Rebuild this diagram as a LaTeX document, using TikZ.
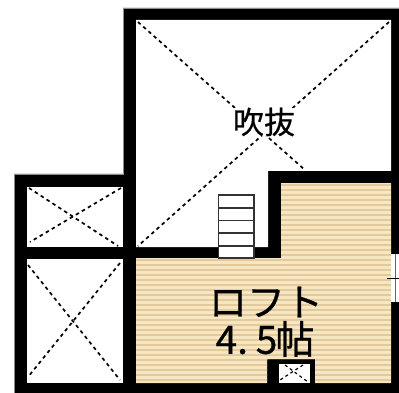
\documentclass[tikz,border=0pt]{standalone}
\usepackage{fontspec}
\newfontfamily\cjk[FakeBold=0.6]{Noto Sans CJK JP}
\usetikzlibrary{positioning}
\definecolor{floorbase}{HTML}{F6E6C2}
\definecolor{floorline}{HTML}{E3CA9C}
\tikzset{
  x=1pt,y=-1pt,
}
\tikzstyle{void}=[dashed,line width=1.7pt,dash pattern=on 3.5pt off 3.5pt]
\tikzstyle{smallvoid}=[dashed,line width=1.2pt,dash pattern=on 3pt off 3pt]
\tikzstyle{tread}=[draw=black!80,line width=1.3pt]
\tikzstyle{every node}=[font=\cjk,inner sep=0pt]
\begin{document}
\begin{tikzpicture}
    \useasboundingbox (0,0) rectangle (399,393);
    \fill[white] (0,0) rectangle (399,393);
    
    \filldraw[draw=black!45,fill=black,line width=.5pt] (14,174)--(123,174)--(123,8)--(399,8)--(399,393)--(14,393)--cycle;
    
    \fill[white] (136,20)--(391,20)--(391,171)--(268,171)--(268,247)--(136,247)--cycle;
    \fill[white] (27,187) rectangle (123,247);
    \fill[white] (27,259) rectangle (123,383);
    \fill[white] (279,364) rectangle (310,383);
    
    \fill[floorbase] (136,258)--(281,258)--(281,183)--(391,183)--(391,383)--(315,383)--(315,359)--(267,359)--(267,383)--(136,383)--cycle;
    \begin{scope}
      \clip (136,258)--(281,258)--(281,183)--(391,183)--(391,383)--(315,383)--(315,359)--(267,359)--(267,383)--(136,383)--cycle;
      \foreach \y in {185,190,...,385}
        \draw[floorline,line width=1.5pt] (136,\y)--(391,\y);
    \end{scope}
    
    \draw[void] (138,22)--(305,170);
    \draw[void] (389,22)--(138,246);
    \draw[void] (29,188)--(118,246);
    \draw[void] (121,188)--(30,242);
    \draw[void] (28,265)--(120,380);
    \draw[void] (120,263)--(28,377);
    \draw[smallvoid] (285,365)--(308,382);
    \draw[smallvoid] (303,365)--(280,380);
    
    \fill[white] (218,195) rectangle (254,258);
    \draw[tread] (218.5,195) rectangle (254,258);
    \foreach \y in {208,220.5,233,246}
      \draw[tread] (218,\y)--(254,\y);
    
    \fill[white] (391,254) rectangle (399,302);
    \draw[black!60,line width=.8pt] (395,254)--(395,302);
    \draw[black,line width=.8pt] (387,278)--(399,278);
    
    \node[fill=white,font=\cjk\fontsize{31}{31}\selectfont] (voidname) at (264,122) {吹抜};
    \node[font=\cjk\fontsize{38}{38}\selectfont] (loftname) at (266,302) {ロフト};
    \node[font=\cjk\fontsize{39}{39}\selectfont] (loftsize) at (265,339) {4.\hspace{-.1em} 5\hspace{-.05em}帖};
\end{tikzpicture}
\end{document}
